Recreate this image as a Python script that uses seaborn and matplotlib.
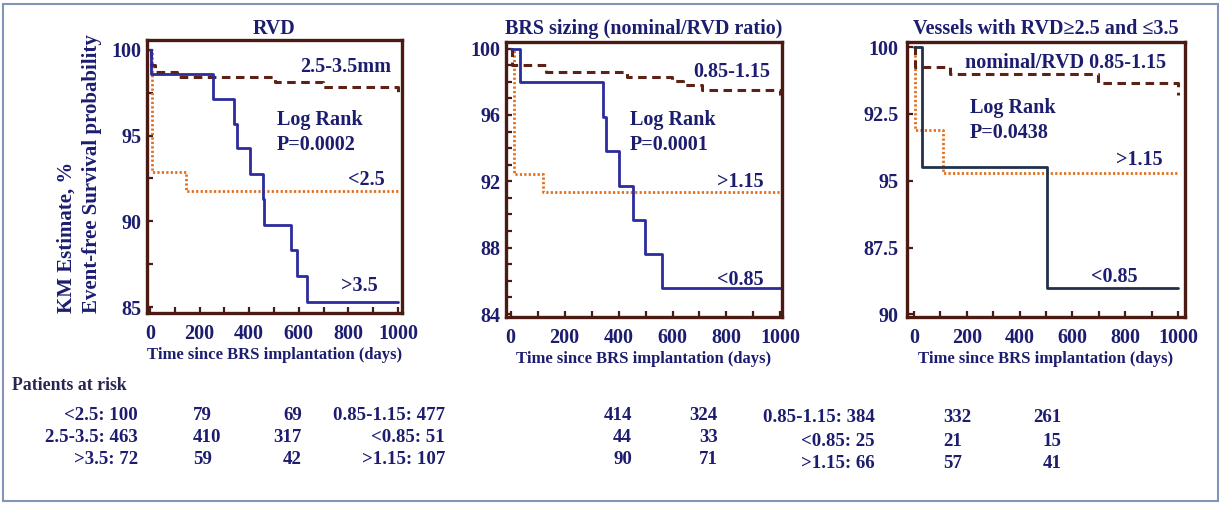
import numpy as np
import pandas as pd
import matplotlib
matplotlib.use("Agg")
import matplotlib.pyplot as plt
from matplotlib.ticker import MultipleLocator, FixedLocator
import seaborn as sns

sns.set_theme(style="white")
plt.rcParams["font.family"] = ["Liberation Serif", "DejaVu Serif"]
plt.rcParams["font.weight"] = "bold"

NAVY = "#1d1d70"
FRAME = "#4b1a12"
BLUE = "#2c2c9c"
SLATE = "#233047"
BROWN = "#5e2116"
ORANGE = "#e2701e"

# ---- Kaplan-Meier step data (days, event-free %) ----
# RVD panel
rvd_small_t = [0, 7, 145, 1000]
rvd_small_s = [100, 92.9, 91.75, 91.75]
rvd_mid_t = [0, 5, 20, 108, 504, 699, 1000]
rvd_mid_s = [100, 99.1, 98.7, 98.4, 98.15, 97.85, 97.5]
rvd_large_t = [0, 4, 253, 340, 350, 403, 454, 458, 569, 591, 632, 1000]
rvd_large_s = [100, 98.6, 97.15, 95.7, 94.25, 92.75, 91.3, 89.8, 88.3, 86.8, 85.3, 85.3]

# BRS sizing panel
siz_ok_t = [0, 4, 130, 430, 597, 640, 709, 1000]
siz_ok_s = [100, 99.0, 98.6, 98.3, 98.05, 97.8, 97.5, 97.2]
siz_under_t = [0, 34, 341, 352, 403, 453, 499, 561, 1004]
siz_under_s = [100, 98.0, 95.9, 93.8, 91.7, 89.65, 87.6, 85.55, 85.55]
siz_over_t = [0, 12, 121, 1000]
siz_over_s = [100, 92.45, 91.35, 91.35]

# Vessels 2.5-3.5 panel
ves_ok_t = [0, 5, 136, 696, 1000]
ves_ok_s = [100, 99.25, 99.0, 98.65, 98.2]
ves_under_t = [0, 29, 502, 1000]
ves_under_s = [100, 95.5, 91.0, 91.0]
ves_over_t = [0, 5, 109, 1000]
ves_over_s = [100, 96.9, 95.3, 95.3]

# Patients at risk (baseline label, ~400 d, ~600 d)
risk_rvd_lbl = ["<2.5: 100", "2.5-3.5: 463", ">3.5: 72"]
risk_rvd_n1 = ["79", "410", "59"]
risk_rvd_n2 = ["69", "317", "42"]
risk_siz_lbl = ["0.85-1.15: 477", "<0.85: 51", ">1.15: 107"]
risk_siz_n1 = ["414", "44", "90"]
risk_siz_n2 = ["324", "33", "71"]
risk_ves_lbl = ["0.85-1.15: 384", "<0.85: 25", ">1.15: 66"]
risk_ves_n1 = ["332", "21", "57"]
risk_ves_n2 = ["261", "15", "41"]

W, H = 1221, 505
fig = plt.figure(figsize=(W / 100, H / 100), dpi=100)

FS = 14.5


def box(x0, y0, x1, y1):
    return [x0 / W, 1 - y1 / H, (x1 - x0) / W, (y1 - y0) / H]


def fpos(x, y):
    return x / W, 1 - y / H


def curve(ax, t, s, color, style, lw):
    df = pd.DataFrame({"t": t, "s": s})
    sns.lineplot(data=df, x="t", y="s", ax=ax, color=color, lw=lw,
                 drawstyle="steps-post", estimator=None, sort=False,
                 **style)


solid = dict(linestyle="-")
dashed = dict(dashes=(2.8, 1.8))
dotted = dict(dashes=(0.8, 0.8))


def frame(ax, xlim, ylim, title, title_pad=4):
    ax.set_xlim(*xlim)
    ax.set_ylim(*ylim)
    for sp in ax.spines.values():
        sp.set_color(FRAME)
        sp.set_linewidth(2.4)
        sp.set_visible(True)
    ax.set_facecolor("white")
    ax.xaxis.set_major_locator(FixedLocator([0, 200, 400, 600, 800, 1000]))
    ax.xaxis.set_minor_locator(MultipleLocator(100))
    ax.tick_params(axis="both", which="both", direction="in", colors=FRAME,
                   labelcolor=NAVY, length=4, width=1.6)
    ax.tick_params(axis="x", which="both", top=False, bottom=True,
                   labelsize=FS, pad=8)
    ax.tick_params(axis="y", which="both", left=True, right=False,
                   labelsize=FS, pad=4)
    for lab in ax.get_xticklabels() + ax.get_yticklabels():
        lab.set_fontweight("bold")
    ax.set_xlabel("Time since BRS implantation (days)", fontsize=12.0,
                  fontweight="bold", color=NAVY, labelpad=2)
    ax.set_ylabel("")
    ax.set_title(title, fontsize=FS, fontweight="bold", color=NAVY,
                 pad=title_pad)


def note(ax, x, y, s, ha="left"):
    ax.text(x, y, s, ha=ha, va="center", fontsize=FS, fontweight="bold",
            color=NAVY)


# ---- Panel 1: RVD ----
ax1 = fig.add_axes(box(147, 40, 402, 313))
curve(ax1, rvd_small_t, rvd_small_s, ORANGE, dotted, 2.0)
curve(ax1, rvd_mid_t, rvd_mid_s, BROWN, dashed, 2.2)
curve(ax1, rvd_large_t, rvd_large_s, BLUE, solid, 2.0)
frame(ax1, (-12, 1016), (84.65, 100.58), "RVD")
ax1.yaxis.set_major_locator(FixedLocator([85, 90, 95, 100]))
ax1.yaxis.set_minor_locator(MultipleLocator(2.5))
note(ax1, 605, 99.0, "2.5-3.5mm")
note(ax1, 512, 95.9, "Log Rank")
note(ax1, 512, 94.45, "P=0.0002")
note(ax1, 948, 92.4, "<2.5", ha="right")
note(ax1, 919, 86.25, ">3.5", ha="right")

# ---- Panel 2: BRS sizing ----
ax2 = fig.add_axes(box(506, 42, 782, 317))
curve(ax2, siz_over_t, siz_over_s, ORANGE, dotted, 2.0)
curve(ax2, siz_ok_t, siz_ok_s, BROWN, dashed, 2.2)
curve(ax2, siz_under_t, siz_under_s, BLUE, solid, 2.0)
frame(ax2, (-17.5, 1006), (83.82, 100.4), "BRS sizing (nominal/RVD ratio)",
      title_pad=6)
ax2.yaxis.set_major_locator(FixedLocator([84, 88, 92, 96, 100]))
ax2.yaxis.set_minor_locator(MultipleLocator(1))
note(ax2, 963, 98.57, "0.85-1.15", ha="right")
note(ax2, 443, 95.67, "Log Rank")
note(ax2, 443, 94.16, "P=0.0001")
note(ax2, 937, 91.93, ">1.15", ha="right")
note(ax2, 937, 86.07, "<0.85", ha="right")

# ---- Panel 3: vessels 2.5-3.5 mm ----
ax3 = fig.add_axes(box(907, 42, 1185, 317))
curve(ax3, ves_over_t, ves_over_s, ORANGE, dotted, 2.0)
curve(ax3, ves_ok_t, ves_ok_s, BROWN, dashed, 2.2)
curve(ax3, ves_under_t, ves_under_s, SLATE, solid, 2.0)
frame(ax3, (-26, 1026), (89.9, 100.19), "Vessels with RVD\u22652.5 and \u22643.5",
      title_pad=6)
ax3.yaxis.set_major_locator(FixedLocator([90, 92.5, 95, 97.5, 100]))
ax3.set_yticklabels(["90", "87.5", "95", "92.5", "100"], fontweight="bold")
ax3.tick_params(axis="y", pad=6)
note(ax3, 193, 99.4, "nominal/RVD 0.85-1.15")
note(ax3, 212, 97.72, "Log Rank")
note(ax3, 212, 96.78, "P=0.0438")
note(ax3, 943, 95.77, ">1.15", ha="right")
note(ax3, 845, 91.39, "<0.85", ha="right")

# ---- Shared y-axis title ----
fig.text(*fpos(67, 313), "KM Estimate, %", rotation=90, ha="center",
         va="bottom", fontsize=15, fontweight="bold", color=NAVY)
fig.text(*fpos(92, 313), "Event-free Survival probability", rotation=90,
         ha="center", va="bottom", fontsize=15, fontweight="bold",
         color=NAVY)

# ---- Patients at risk table ----
tkw = dict(fontsize=13.6, fontweight="bold", color=NAVY, va="center")
fig.text(*fpos(12, 385), "Patients at risk", ha="left", fontsize=12.8,
         fontweight="bold", color="#262650", va="center")
rows12 = [415, 438, 460]
rows3 = [418, 442, 463]
for i, y in enumerate(rows12):
    fig.text(*fpos(138, y), risk_rvd_lbl[i], ha="right", **tkw)
    fig.text(*fpos(193, y), risk_rvd_n1[i], ha="left", **tkw)
    fig.text(*fpos(302, y), risk_rvd_n2[i], ha="right", **tkw)
    fig.text(*fpos(445, y), risk_siz_lbl[i], ha="right", **tkw)
    fig.text(*fpos(632, y), risk_siz_n1[i], ha="right", **tkw)
    fig.text(*fpos(718, y), risk_siz_n2[i], ha="right", **tkw)
for i, y in enumerate(rows3):
    fig.text(*fpos(875, y), risk_ves_lbl[i], ha="right", **tkw)
    fig.text(*fpos(943, y), risk_ves_n1[i], ha="left", **tkw)
    fig.text(*fpos(1062, y), risk_ves_n2[i], ha="right", **tkw)

# ---- Outer border ----
fig.patches.append(plt.Rectangle((3 / W, 4 / H), 1 - 6 / W, 1 - 8 / H,
                                 transform=fig.transFigure, fill=False,
                                 edgecolor="#8493b8", lw=1.5))

fig.savefig("out.png", dpi=100, facecolor="white")
